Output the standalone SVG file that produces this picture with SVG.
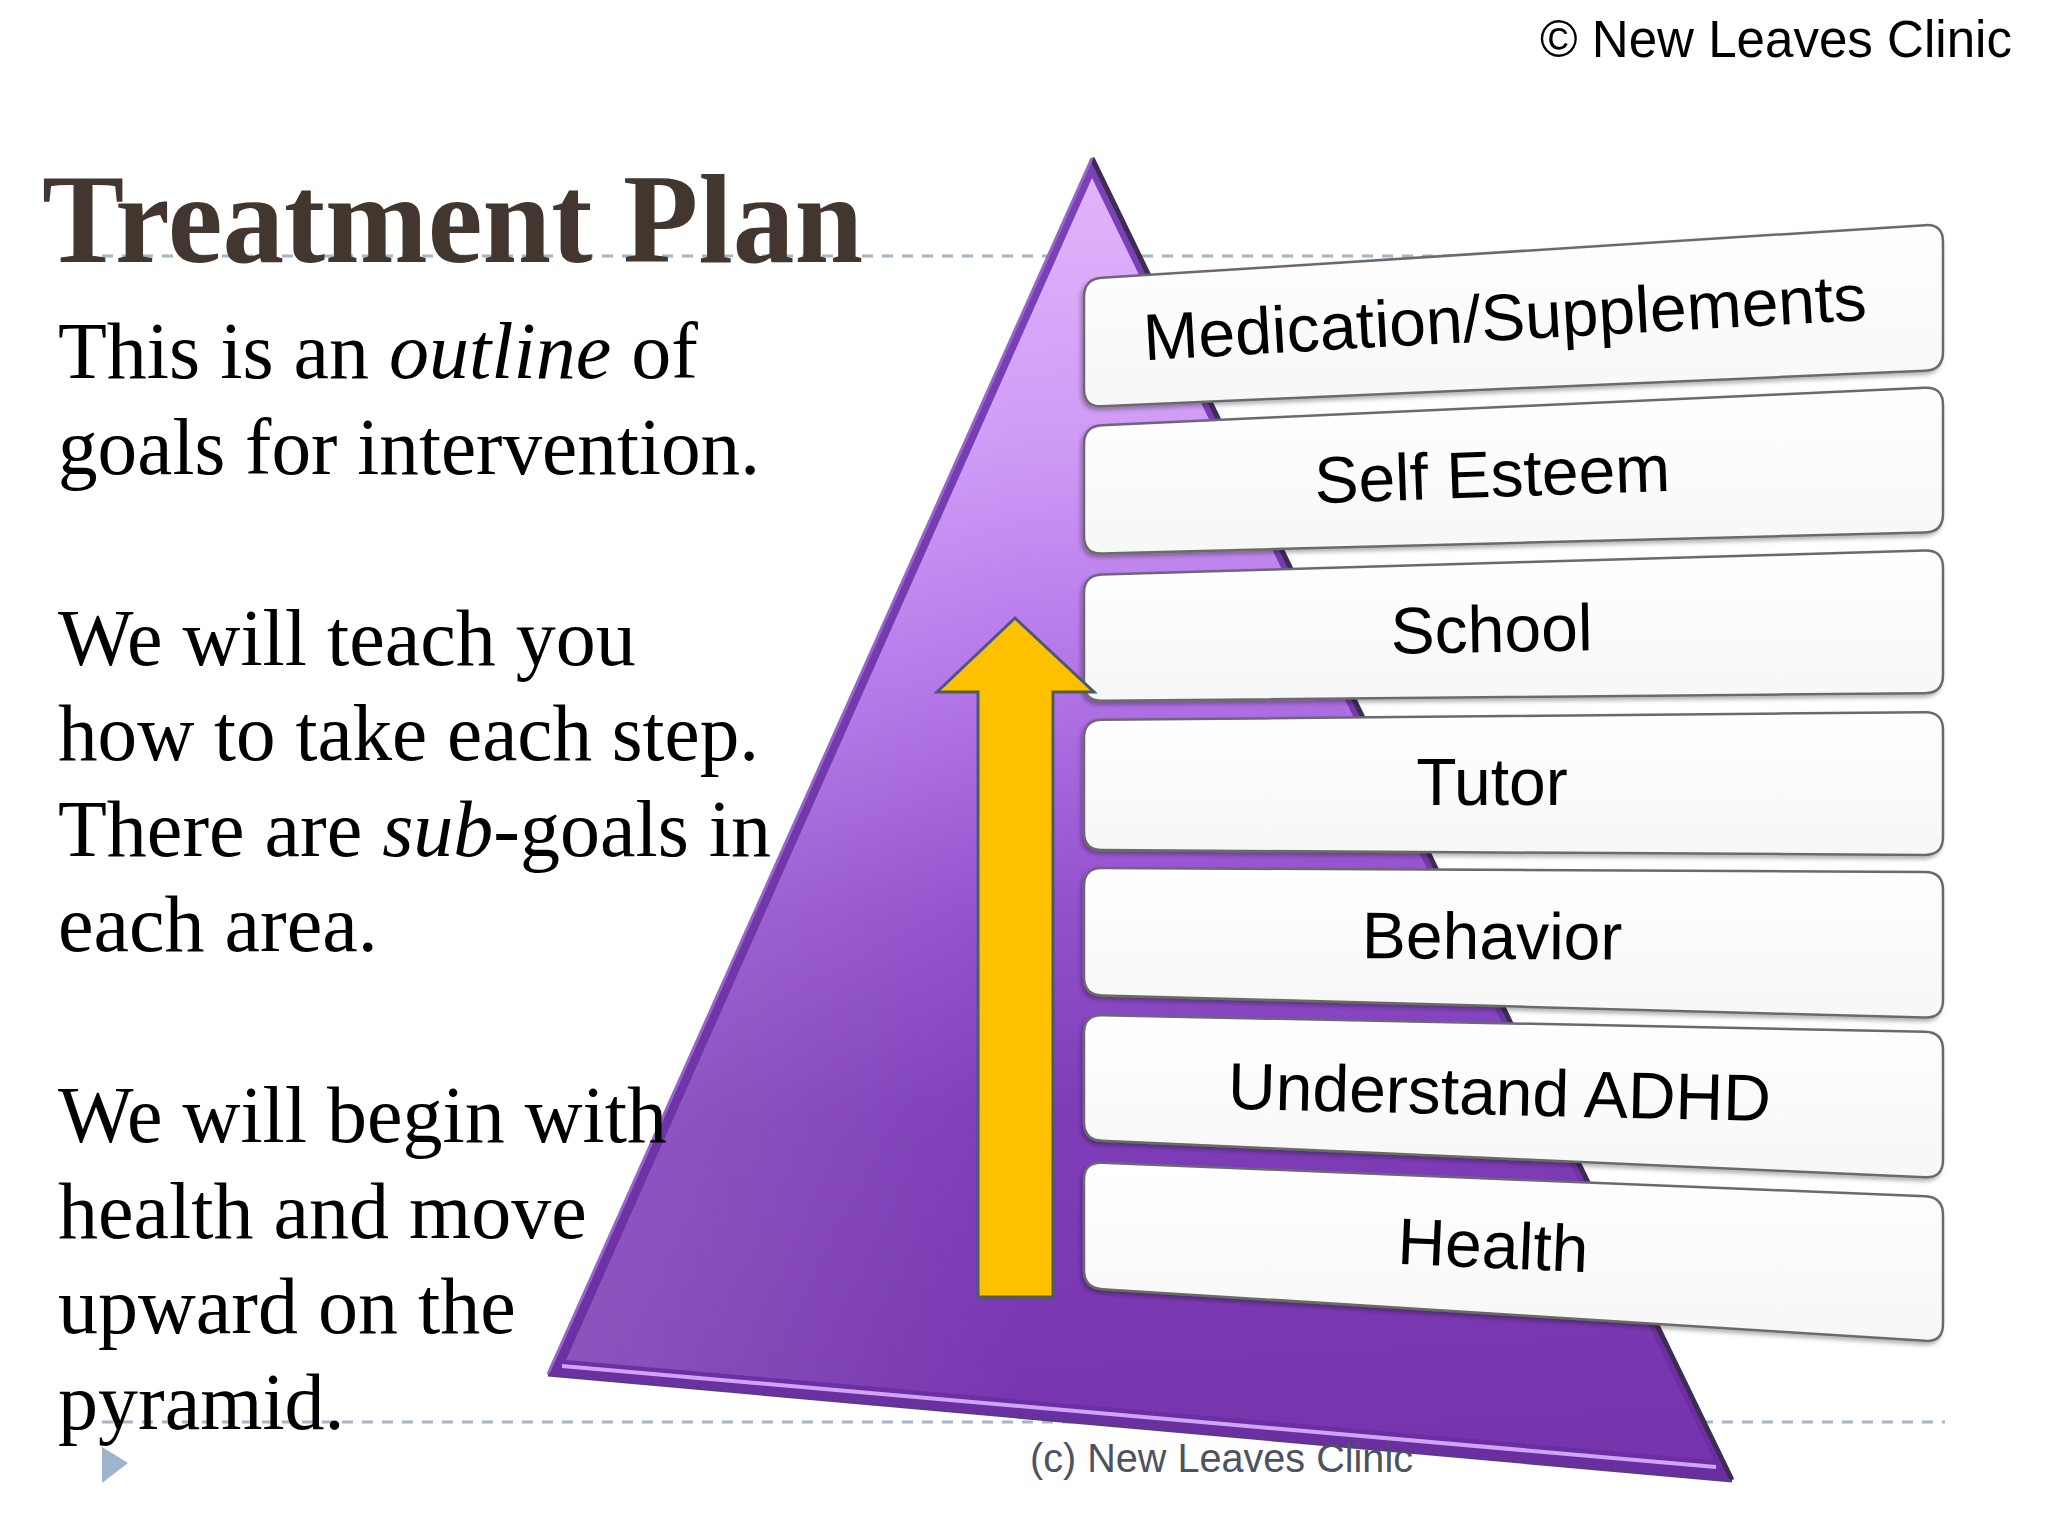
<svg xmlns="http://www.w3.org/2000/svg" width="2048" height="1536" viewBox="0 0 2048 1536">
<defs>
<style>
.serif{font-family:"Liberation Serif","Times New Roman",serif;fill:#000;font-size:80px}
.bar{fill:url(#barG);stroke:#6b6b6b;stroke-width:2.5;filter:url(#sh)}
.lbl{font-family:"Liberation Sans",Arial,sans-serif;font-size:66px;fill:#000;text-anchor:middle}
.dash{stroke:#a4b6c8;stroke-width:3;stroke-dasharray:11 9;fill:none}
</style>
<linearGradient id="face" x1="0.45" y1="0" x2="0.5" y2="1">
<stop offset="0" stop-color="#e2b4fb"/>
<stop offset="0.2" stop-color="#d09bf6"/>
<stop offset="0.4" stop-color="#b172e7"/>
<stop offset="0.56" stop-color="#9452cd"/>
<stop offset="0.72" stop-color="#7f3eb9"/>
<stop offset="1" stop-color="#7634ad"/>
</linearGradient>
<linearGradient id="leftHi" x1="0" y1="0" x2="1" y2="0">
<stop offset="0" stop-color="#ffffff" stop-opacity="0.14"/>
<stop offset="0.4" stop-color="#ffffff" stop-opacity="0"/>
</linearGradient>
<linearGradient id="outer" x1="0" y1="0" x2="0" y2="1">
<stop offset="0" stop-color="#7a42b5"/>
<stop offset="1" stop-color="#6a2ea0"/>
</linearGradient>
<linearGradient id="barG" x1="0" y1="0" x2="0" y2="1">
<stop offset="0" stop-color="#ffffff"/>
<stop offset="1" stop-color="#f7f7f7"/>
</linearGradient>
<filter id="sh" x="-5%" y="-20%" width="110%" height="140%">
<feDropShadow dx="-2" dy="3" stdDeviation="2" flood-color="#000" flood-opacity="0.3"/>
</filter>
</defs>
<rect width="2048" height="1536" fill="#ffffff"/>
<g id="guides">
<line class="dash" x1="102" y1="256" x2="1944" y2="256"/>
<line class="dash" x1="102" y1="1422" x2="1945" y2="1422"/>
<polygon points="102,1447 128,1463 102,1483" fill="#9db4cc"/>
</g>
<g id="pyramid">
<polygon points="1092,158 1732,1480 548,1374" fill="url(#outer)"/>
<polygon points="1092,178 1714,1460 566,1360" fill="url(#face)"/>
<polygon points="1092,178 1714,1460 566,1360" fill="url(#leftHi)"/>
<line x1="1092" y1="158" x2="1732" y2="1480" stroke="#3e2c52" stroke-width="5"/>
<line x1="1092" y1="158" x2="548" y2="1374" stroke="#9a62d4" stroke-width="3"/>
<line x1="562" y1="1366" x2="1716" y2="1467" stroke="#d1a4fb" stroke-width="4"/>
<line x1="548" y1="1375" x2="1732" y2="1481" stroke="#5a3a80" stroke-width="3"/>
</g>
<g id="bar-medication">
<path class="bar" d="M1084,297 Q1084,279 1102,277.85 L1925,225.15 Q1943,224 1943,242 L1943,352 Q1943,370 1925,370.78 L1102,406.22 Q1084,407 1084,389 Z"/>
<text class="lbl" x="1506" y="340" textLength="724" lengthAdjust="spacingAndGlyphs" transform="rotate(-3.2 1506 340)">Medication/Supplements</text>
</g>
<g id="bar-selfesteem">
<path class="bar" d="M1084,444 Q1084,426 1102,425.18 L1925,387.82 Q1943,387 1943,405 L1943,514 Q1943,532 1925,532.46 L1102,553.54 Q1084,554 1084,536 Z"/>
<text class="lbl" x="1493" y="497" transform="rotate(-2 1493 497)">Self Esteem</text>
</g>
<g id="bar-school">
<path class="bar" d="M1084,593 Q1084,575 1102,574.48 L1925,550.52 Q1943,550 1943,568 L1943,675 Q1943,693 1925,693.17 L1102,700.83 Q1084,701 1084,683 Z"/>
<text class="lbl" x="1492" y="652" transform="rotate(-1 1492 652)">School</text>
</g>
<g id="bar-tutor">
<path class="bar" d="M1084,738 Q1084,720 1102,719.83 L1925,712.17 Q1943,712 1943,730 L1943,837 Q1943,855 1925,854.9 L1102,850.1 Q1084,850 1084,832 Z"/>
<text class="lbl" x="1492" y="805">Tutor</text>
</g>
<g id="bar-behavior">
<path class="bar" d="M1084,886 Q1084,868 1102,868.08 L1925,871.92 Q1943,872 1943,890 L1943,1000 Q1943,1018 1925,1017.52 L1102,995.48 Q1084,995 1084,977 Z"/>
<text class="lbl" x="1492" y="959" transform="rotate(0.3 1492 959)">Behavior</text>
</g>
<g id="bar-understand">
<path class="bar" d="M1084,1033 Q1084,1015 1102,1015.36 L1925,1031.64 Q1943,1032 1943,1050 L1943,1160 Q1943,1178 1925,1177.2 L1102,1140.8 Q1084,1140 1084,1122 Z"/>
<text class="lbl" x="1499" y="1115" transform="rotate(1.3 1499 1115)">Understand ADHD</text>
</g>
<g id="bar-health">
<path class="bar" d="M1084,1180 Q1084,1162 1102,1162.73 L1925,1196.27 Q1943,1197 1943,1215 L1943,1324 Q1943,1342 1925,1340.87 L1102,1289.13 Q1084,1288 1084,1270 Z"/>
<text class="lbl" x="1492" y="1268" transform="rotate(2.5 1492 1268)">Health</text>
</g>
<g id="connectors">
<polygon id="arrow" points="1015,618 1094,692 1053,692 1053,1297 978,1297 978,692 937,692" fill="#ffc000" stroke="#4d5a6a" stroke-width="3" stroke-linejoin="miter"/>
</g>
<g id="title">
<text x="42" y="262" font-family="'Liberation Serif','Times New Roman',serif" font-weight="bold" font-size="126" fill="#42362f" textLength="821" lengthAdjust="spacingAndGlyphs">Treatment Plan</text>
</g>
<g id="body-text">
<text class="serif" x="58" y="378">This is an <tspan font-style="italic">outline</tspan> of</text>
<text class="serif" x="58" y="473.5" textLength="702" lengthAdjust="spacingAndGlyphs">goals for intervention.</text>
<text class="serif" x="58" y="664.5">We will teach you</text>
<text class="serif" x="58" y="760" textLength="701" lengthAdjust="spacingAndGlyphs">how to take each step.</text>
<text class="serif" x="58" y="855.5">There are <tspan font-style="italic">sub</tspan>-goals in</text>
<text class="serif" x="58" y="951">each area.</text>
<text class="serif" x="58" y="1142">We will begin with</text>
<text class="serif" x="58" y="1237.5">health and move</text>
<text class="serif" x="58" y="1333">upward on the</text>
<text class="serif" x="58" y="1428.5">pyramid.</text>
</g>
<g id="credits">
<text x="1540" y="57" font-family="'Liberation Sans',Arial,sans-serif" font-size="51" fill="#000" textLength="472" lengthAdjust="spacingAndGlyphs">© New Leaves Clinic</text>
<text x="1030" y="1472" font-family="'Liberation Sans',Arial,sans-serif" font-size="41" fill="#4e5260" textLength="383" lengthAdjust="spacingAndGlyphs">(c) New Leaves Clinic</text>
</g>
</svg>
